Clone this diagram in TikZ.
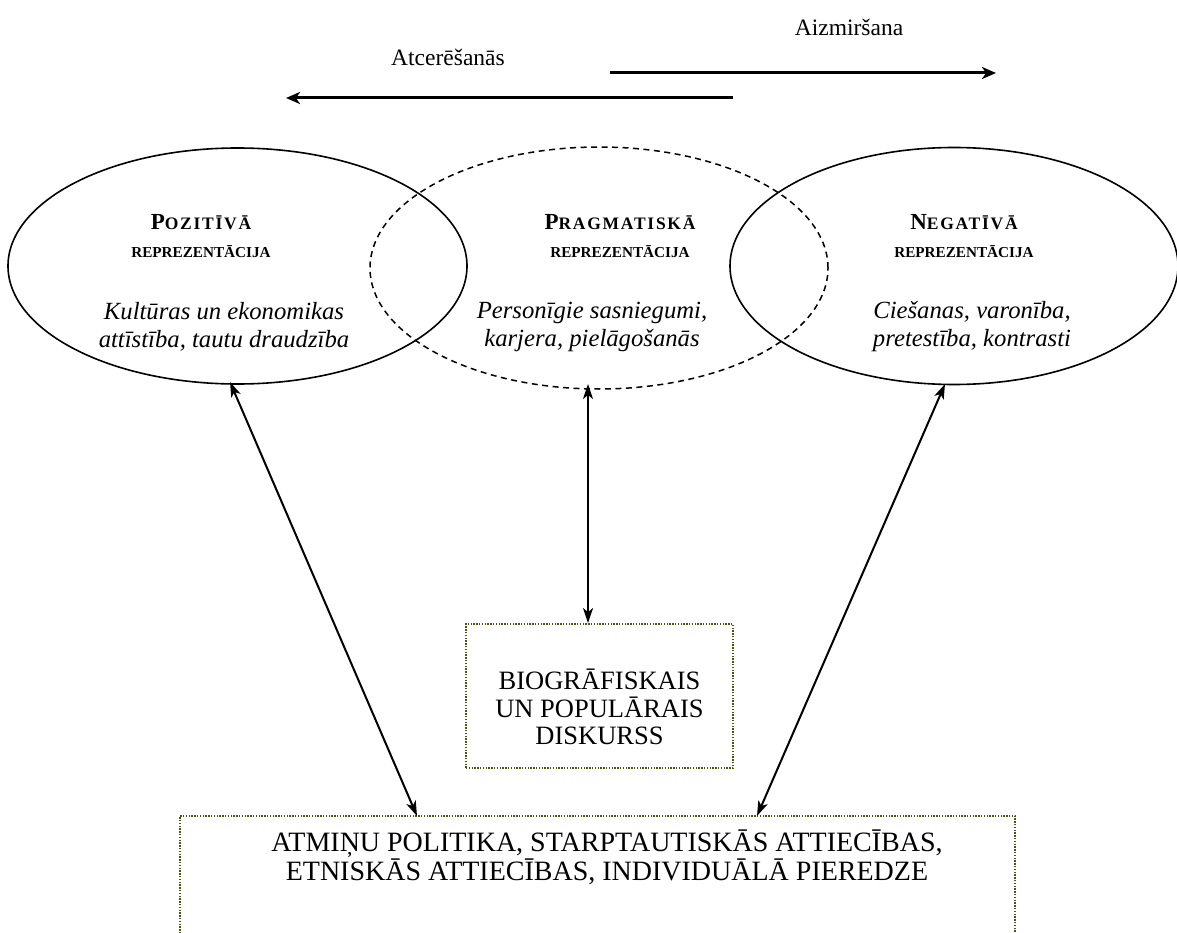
\documentclass[tikz,border=0pt]{standalone}
\usepackage{fontspec}
\setmainfont{Liberation Serif}
\usetikzlibrary{arrows.meta,shapes.geometric}
\definecolor{dotolive}{RGB}{80,80,20}
\newcommand\capbig[1]{{\fontsize{23}{28}\selectfont #1}}
\newcommand\capsmall[1]{{\fontsize{17.5}{28}\selectfont\addfontfeature{LetterSpace=10}#1}}
\begin{document}
\begin{tikzpicture}[x=1pt,y=-1pt,
  oval/.style={draw,ellipse,line width=1.6pt,inner sep=0pt},
  dashoval/.style={oval,line width=1.5pt,dash pattern=on 6pt off 4.5pt},
  dotbox/.style={draw=dotolive,dash pattern=on 1.4pt off 1.4pt,line width=1.8pt,rectangle,inner sep=0pt},
  bigarrow/.style={-{Stealth[length=14pt,width=12pt,inset=4pt]},line width=3pt},
  dblarrow/.style={{Stealth[length=15pt,width=10pt,inset=4pt]}-{Stealth[length=15pt,width=10pt,inset=4pt]},line width=2pt},
  ttl/.style={font=\bfseries\fontsize{15.2}{28}\selectfont,align=center},
  dsc/.style={font=\itshape\fontsize{24.7}{28}\selectfont,align=center},
  lbl/.style={font=\fontsize{23.5}{26}\selectfont},
  boxtxt/.style={font=\fontsize{26.5}{27.5}\selectfont,align=center},
  widetxt/.style={font=\fontsize{28}{29}\selectfont,align=center}]
\useasboundingbox (0,0) rectangle (1177,933);
\clip (0,0) rectangle (1177,933);

% top labels and arrows
\node[lbl] (forget) at (849,27) {Aizmiršana};
\node[lbl] (remember) at (448,57) {Atcerēšanās};
\coordinate (fa) at (610,73);
\coordinate (fb) at (996,73);
\coordinate (ra) at (733,98);
\coordinate (rb) at (286,98);
\draw[bigarrow] (fa) -- (fb);
\draw[bigarrow] (ra) -- (rb);

% ellipses
\node[oval,minimum width=459pt,minimum height=236pt] (pos) at (237.5,266) {};
\node[dashoval,minimum width=458pt,minimum height=242pt] (prag) at (599,268) {};
\node[oval,minimum width=448pt,minimum height=237pt] (neg) at (954,266) {};

% titles
\node[ttl] (post) at (201,236) {\capbig{P}\capsmall{OZITĪVĀ}\\REPREZENTĀCIJA};
\node[ttl] (pragt) at (620,236) {\capbig{P}\capsmall{RAGMATISKĀ}\\REPREZENTĀCIJA};
\node[ttl] (negt) at (964,236) {\capbig{N}\capsmall{EGATĪVĀ}\\REPREZENTĀCIJA};

% descriptions
\node[dsc] (posd) at (224,327) {Kultūras un ekonomikas\\attīstība, tautu draudzība};
\node[dsc] (pragd) at (592,327) {Personīgie sasniegumi,\\karjera, pielāgošanās};
\node[dsc] (negd) at (972,327) {Ciešanas, varonība,\\pretestība, kontrasti};

% boxes
\node[dotbox,minimum width=267pt,minimum height=144pt] (bio) at (599.5,696) {};
\node[boxtxt] (biot) at (599.5,707) {BIOGRĀFISKAIS\\UN POPULĀRAIS\\DISKURSS};
\node[dotbox,minimum width=835pt,minimum height=160pt] (pol) at (597.5,896) {};
\node[widetxt] (polt) at (607,857) {ATMIŅU POLITIKA, STARPTAUTISKĀS ATTIECĪBAS,\\ETNISKĀS ATTIECĪBAS, INDIVIDUĀLĀ PIEREDZE};

% double arrows
\coordinate (p1) at (230,382);
\coordinate (p2) at (417,816);
\coordinate (m1) at (588,384);
\coordinate (n1) at (945,384);
\coordinate (n2) at (757,816);
\draw[dblarrow] (p1) -- (p2);
\draw[dblarrow] (m1) -- (bio.north -| m1);
\draw[dblarrow] (n1) -- (n2);
\end{tikzpicture}
\end{document}
